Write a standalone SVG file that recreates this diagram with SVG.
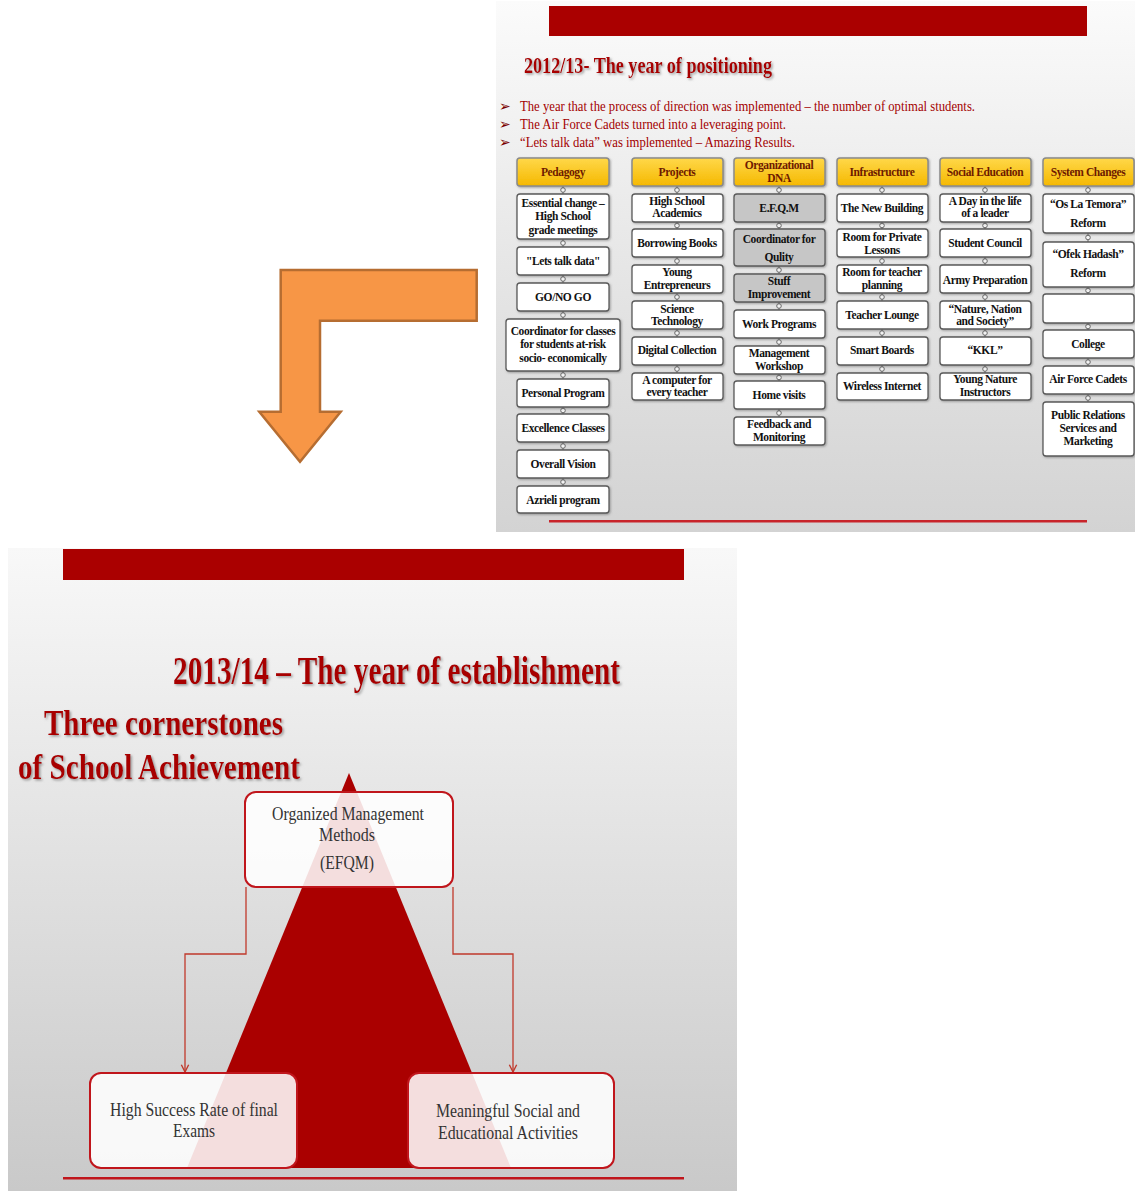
<svg xmlns="http://www.w3.org/2000/svg" width="1135" height="1191" viewBox="0 0 1135 1191">
<defs>
<linearGradient id="bgTop" x1="0" y1="0" x2="0" y2="1">
<stop offset="0" stop-color="#fbfbfb"/><stop offset="0.5" stop-color="#e6e6e6"/><stop offset="1" stop-color="#d3d3d3"/>
</linearGradient>
<linearGradient id="bgBot" x1="0" y1="0" x2="0" y2="1">
<stop offset="0" stop-color="#f8f8f8"/><stop offset="1" stop-color="#c9c9c9"/>
</linearGradient>
<linearGradient id="hdr" x1="0" y1="0" x2="0" y2="1">
<stop offset="0" stop-color="#ffd84a"/><stop offset="1" stop-color="#f5b800"/>
</linearGradient>
<filter id="shadow" x="-10%" y="-20%" width="120%" height="150%">
<feDropShadow dx="1.5" dy="1.5" stdDeviation="1" flood-color="#777" flood-opacity="0.7"/>
</filter>
<filter id="bshadow" x="-10%" y="-20%" width="120%" height="150%">
<feDropShadow dx="1" dy="1" stdDeviation="0.8" flood-color="#555" flood-opacity="0.5"/>
</filter>
<marker id="arr" viewBox="0 0 10 10" refX="9" refY="5" markerWidth="7" markerHeight="7" orient="auto">
<path d="M1,1 L9,5 L1,9" fill="none" stroke="#c0392b" stroke-width="1.5"/>
</marker>
<style>
.box{fill:#ffffff;stroke:#5a5a5a;stroke-width:1.3;filter:url(#bshadow)}
.gbox{fill:#c6c6c6;stroke:#5a5a5a;stroke-width:1.3;filter:url(#bshadow)}
.hbox{fill:url(#hdr);stroke:#8a8a8a;stroke-width:1.5;filter:url(#bshadow)}
.t{font-family:"Liberation Serif",serif;font-weight:bold;font-size:11.5px;fill:#111;text-anchor:middle;letter-spacing:-0.4px}
.ht{font-family:"Liberation Serif",serif;font-weight:bold;font-size:11.5px;fill:#6e1a00;text-anchor:middle;letter-spacing:-0.4px}
.bul{font-family:"Liberation Serif",serif;font-size:14px;fill:#a30000}
.mk{font-family:"DejaVu Sans",sans-serif;font-size:14px;fill:#7a0000}
.title{font-family:"Liberation Serif",serif;font-weight:bold;fill:#a80000;filter:url(#shadow)}
.cbox{fill:#ffffff;fill-opacity:0.87;stroke:#c0161c;stroke-width:2}
.ct{font-family:"Liberation Serif",serif;font-size:18px;fill:#333;text-anchor:middle}
.conn line{stroke:#6a6a6a;stroke-width:1}
.conn circle{fill:#f4f4f4;stroke:#6a6a6a;stroke-width:1}
.rc{fill:none;stroke:#c0392b;stroke-width:1.3}
</style>
</defs>

<rect width="1135" height="1191" fill="#ffffff"/>

<!-- Top slide -->
<g id="slide-top">
<rect x="496" y="1" width="639" height="531" fill="url(#bgTop)"/>
<rect x="549" y="6" width="538" height="30" fill="#aa0000"/>
<text class="title" x="524" y="73" font-size="23" textLength="248" lengthAdjust="spacingAndGlyphs">2012/13- The year of positioning</text>
<text class="mk" x="499" y="111">➢</text>
<text class="mk" x="499" y="129">➢</text>
<text class="mk" x="499" y="147">➢</text>
<text class="bul" x="520" y="111" textLength="455" lengthAdjust="spacingAndGlyphs">The year that the process of direction was implemented – the number of optimal students.</text>
<text class="bul" x="520" y="129" textLength="266" lengthAdjust="spacingAndGlyphs">The Air Force Cadets turned into a leveraging point.</text>
<text class="bul" x="520" y="147" textLength="275" lengthAdjust="spacingAndGlyphs">“Lets talk data” was implemented – Amazing Results.</text>
<rect x="549" y="520" width="538" height="2.5" fill="#c8242a"/>
</g>

<!-- Connectors (top chart) -->
<g id="connectors" class="conn">
<g id="c-ped">
<line x1="563" y1="186" x2="563" y2="194"/><circle cx="563" cy="190" r="2.3"/>
<line x1="563" y1="239" x2="563" y2="247"/><circle cx="563" cy="243" r="2.3"/>
<line x1="563" y1="275" x2="563" y2="283"/><circle cx="563" cy="279" r="2.3"/>
<line x1="563" y1="311" x2="563" y2="319"/><circle cx="563" cy="315" r="2.3"/>
<line x1="563" y1="371" x2="563" y2="379"/><circle cx="563" cy="375" r="2.3"/>
<line x1="563" y1="407" x2="563" y2="414"/><circle cx="563" cy="410.5" r="2.3"/>
<line x1="563" y1="442" x2="563" y2="450"/><circle cx="563" cy="446" r="2.3"/>
<line x1="563" y1="478" x2="563" y2="486"/><circle cx="563" cy="482" r="2.3"/>
</g>
<g id="c-proj">
<line x1="677" y1="186" x2="677" y2="194"/><circle cx="677" cy="190" r="2.3"/>
<line x1="677" y1="222" x2="677" y2="229"/><circle cx="677" cy="225.5" r="2.3"/>
<line x1="677" y1="257" x2="677" y2="265"/><circle cx="677" cy="261" r="2.3"/>
<line x1="677" y1="293" x2="677" y2="301"/><circle cx="677" cy="297" r="2.3"/>
<line x1="677" y1="329" x2="677" y2="337"/><circle cx="677" cy="333" r="2.3"/>
<line x1="677" y1="365" x2="677" y2="373"/><circle cx="677" cy="369" r="2.3"/>
</g>
<g id="c-org">
<line x1="779" y1="186" x2="779" y2="194"/><circle cx="779" cy="190" r="2.3"/>
<line x1="779" y1="222" x2="779" y2="229"/><circle cx="779" cy="225.5" r="2.3"/>
<line x1="779" y1="266" x2="779" y2="274"/><circle cx="779" cy="270" r="2.3"/>
<line x1="779" y1="302" x2="779" y2="310"/><circle cx="779" cy="306" r="2.3"/>
<line x1="779" y1="338" x2="779" y2="346"/><circle cx="779" cy="342" r="2.3"/>
<line x1="779" y1="374" x2="779" y2="381"/><circle cx="779" cy="377.5" r="2.3"/>
<line x1="779" y1="409" x2="779" y2="417"/><circle cx="779" cy="413" r="2.3"/>
</g>
<g id="c-inf">
<line x1="882" y1="186" x2="882" y2="194"/><circle cx="882" cy="190" r="2.3"/>
<line x1="882" y1="222" x2="882" y2="229"/><circle cx="882" cy="225.5" r="2.3"/>
<line x1="882" y1="257" x2="882" y2="265"/><circle cx="882" cy="261" r="2.3"/>
<line x1="882" y1="293" x2="882" y2="301"/><circle cx="882" cy="297" r="2.3"/>
<line x1="882" y1="329" x2="882" y2="337"/><circle cx="882" cy="333" r="2.3"/>
<line x1="882" y1="365" x2="882" y2="373"/><circle cx="882" cy="369" r="2.3"/>
</g>
<g id="c-soc">
<line x1="985" y1="186" x2="985" y2="194"/><circle cx="985" cy="190" r="2.3"/>
<line x1="985" y1="222" x2="985" y2="229"/><circle cx="985" cy="225.5" r="2.3"/>
<line x1="985" y1="257" x2="985" y2="265"/><circle cx="985" cy="261" r="2.3"/>
<line x1="985" y1="293" x2="985" y2="301"/><circle cx="985" cy="297" r="2.3"/>
<line x1="985" y1="329" x2="985" y2="337"/><circle cx="985" cy="333" r="2.3"/>
<line x1="985" y1="365" x2="985" y2="373"/><circle cx="985" cy="369" r="2.3"/>
</g>
<g id="c-sys">
<line x1="1088" y1="186" x2="1088" y2="194"/><circle cx="1088" cy="190" r="2.3"/>
<line x1="1088" y1="233" x2="1088" y2="242"/><circle cx="1088" cy="237.5" r="2.3"/>
<line x1="1088" y1="287" x2="1088" y2="294"/><circle cx="1088" cy="290.5" r="2.3"/>
<line x1="1088" y1="323" x2="1088" y2="330"/><circle cx="1088" cy="326.5" r="2.3"/>
<line x1="1088" y1="358" x2="1088" y2="366"/><circle cx="1088" cy="362" r="2.3"/>
<line x1="1088" y1="394" x2="1088" y2="402"/><circle cx="1088" cy="398" r="2.3"/>
</g>
</g>

<!-- Pedagogy column -->
<g id="h-pedagogy"><rect class="hbox" x="517" y="158" width="92" height="28" rx="3"/><text class="ht" x="563" y="176">Pedagogy</text></g>
<g id="n-essential"><rect class="box" x="517" y="194" width="92" height="45" rx="3"/><text class="t" x="563" y="207">Essential change –</text><text class="t" x="563" y="220">High School</text><text class="t" x="563" y="234">grade meetings</text></g>
<g id="n-letstalk"><rect class="box" x="517" y="247" width="92" height="28" rx="3"/><text class="t" x="563" y="265">"Lets talk data"</text></g>
<g id="n-gonogo"><rect class="box" x="517" y="283" width="92" height="28" rx="3"/><text class="t" x="563" y="301">GO/NO GO</text></g>
<g id="n-coordinator"><rect class="box" x="506" y="319" width="114" height="52" rx="3"/><text class="t" x="563" y="335">Coordinator for classes</text><text class="t" x="563" y="348">for students at-risk</text><text class="t" x="563" y="362">socio- economically</text></g>
<g id="n-personal"><rect class="box" x="517" y="379" width="92" height="28" rx="3"/><text class="t" x="563" y="397">Personal Program</text></g>
<g id="n-excellence"><rect class="box" x="517" y="414" width="92" height="28" rx="3"/><text class="t" x="563" y="432">Excellence Classes</text></g>
<g id="n-overall"><rect class="box" x="517" y="450" width="92" height="28" rx="3"/><text class="t" x="563" y="468">Overall Vision</text></g>
<g id="n-azrieli"><rect class="box" x="517" y="486" width="92" height="27" rx="3"/><text class="t" x="563" y="504">Azrieli program</text></g>

<!-- Projects column -->
<g id="h-projects"><rect class="hbox" x="632" y="158" width="91" height="28" rx="3"/><text class="ht" x="677" y="176">Projects</text></g>
<g id="n-hsacademics"><rect class="box" x="632" y="194" width="91" height="28" rx="3"/><text class="t" x="677" y="205">High School</text><text class="t" x="677" y="217">Academics</text></g>
<g id="n-borrowing"><rect class="box" x="632" y="229" width="91" height="28" rx="3"/><text class="t" x="677" y="247">Borrowing Books</text></g>
<g id="n-young"><rect class="box" x="632" y="265" width="91" height="28" rx="3"/><text class="t" x="677" y="276">Young</text><text class="t" x="677" y="289">Entrepreneurs</text></g>
<g id="n-science"><rect class="box" x="632" y="301" width="91" height="28" rx="3"/><text class="t" x="677" y="313">Science</text><text class="t" x="677" y="325">Technology</text></g>
<g id="n-digital"><rect class="box" x="632" y="337" width="91" height="28" rx="3"/><text class="t" x="677" y="354">Digital Collection</text></g>
<g id="n-computer"><rect class="box" x="632" y="373" width="91" height="27" rx="3"/><text class="t" x="677" y="384">A computer for</text><text class="t" x="677" y="396">every teacher</text></g>

<!-- Organizational DNA column -->
<g id="h-orgdna"><rect class="hbox" x="734" y="158" width="91" height="28" rx="3"/><text class="ht" x="779" y="169">Organizational</text><text class="ht" x="779" y="182">DNA</text></g>
<g id="n-efqm"><rect class="gbox" x="734" y="194" width="91" height="28" rx="3"/><text class="t" x="779" y="212">E.F.Q.M</text></g>
<g id="n-coordquality"><rect class="gbox" x="734" y="229" width="91" height="37" rx="3"/><text class="t" x="779" y="243">Coordinator for</text><text class="t" x="779" y="261">Qulity</text></g>
<g id="n-stuff"><rect class="gbox" x="734" y="274" width="91" height="28" rx="3"/><text class="t" x="779" y="285">Stuff</text><text class="t" x="779" y="298">Improvement</text></g>
<g id="n-work"><rect class="box" x="734" y="310" width="91" height="28" rx="3"/><text class="t" x="779" y="328">Work Programs</text></g>
<g id="n-mgmt"><rect class="box" x="734" y="346" width="91" height="28" rx="3"/><text class="t" x="779" y="357">Management</text><text class="t" x="779" y="370">Workshop</text></g>
<g id="n-home"><rect class="box" x="734" y="381" width="91" height="28" rx="3"/><text class="t" x="779" y="399">Home visits</text></g>
<g id="n-feedback"><rect class="box" x="734" y="417" width="91" height="28" rx="3"/><text class="t" x="779" y="428">Feedback and</text><text class="t" x="779" y="441">Monitoring</text></g>

<!-- Infrastructure column -->
<g id="h-infra"><rect class="hbox" x="837" y="158" width="91" height="28" rx="3"/><text class="ht" x="882" y="176">Infrastructure</text></g>
<g id="n-newbuilding"><rect class="box" x="837" y="194" width="91" height="28" rx="3"/><text class="t" x="882" y="212">The New Building</text></g>
<g id="n-private"><rect class="box" x="837" y="229" width="91" height="28" rx="3"/><text class="t" x="882" y="241">Room for Private</text><text class="t" x="882" y="254">Lessons</text></g>
<g id="n-teacherplan"><rect class="box" x="837" y="265" width="91" height="28" rx="3"/><text class="t" x="882" y="276">Room for teacher</text><text class="t" x="882" y="289">planning</text></g>
<g id="n-lounge"><rect class="box" x="837" y="301" width="91" height="28" rx="3"/><text class="t" x="882" y="319">Teacher Lounge</text></g>
<g id="n-smart"><rect class="box" x="837" y="337" width="91" height="28" rx="3"/><text class="t" x="882" y="354">Smart Boards</text></g>
<g id="n-wireless"><rect class="box" x="837" y="373" width="91" height="27" rx="3"/><text class="t" x="882" y="390">Wireless Internet</text></g>

<!-- Social Education column -->
<g id="h-social"><rect class="hbox" x="940" y="158" width="91" height="28" rx="3"/><text class="ht" x="985" y="176">Social Education</text></g>
<g id="n-dayleader"><rect class="box" x="940" y="194" width="91" height="28" rx="3"/><text class="t" x="985" y="205">A Day in the life</text><text class="t" x="985" y="217">of a leader</text></g>
<g id="n-council"><rect class="box" x="940" y="229" width="91" height="28" rx="3"/><text class="t" x="985" y="247">Student Council</text></g>
<g id="n-army"><rect class="box" x="940" y="265" width="91" height="28" rx="3"/><text class="t" x="985" y="284">Army Preparation</text></g>
<g id="n-nature"><rect class="box" x="940" y="301" width="91" height="28" rx="3"/><text class="t" x="985" y="313">“Nature, Nation</text><text class="t" x="985" y="325">and Society”</text></g>
<g id="n-kkl"><rect class="box" x="940" y="337" width="91" height="28" rx="3"/><text class="t" x="985" y="354">“KKL”</text></g>
<g id="n-youngnature"><rect class="box" x="940" y="373" width="91" height="27" rx="3"/><text class="t" x="985" y="383">Young Nature</text><text class="t" x="985" y="396">Instructors</text></g>

<!-- System Changes column -->
<g id="h-system"><rect class="hbox" x="1043" y="158" width="91" height="28" rx="3"/><text class="ht" x="1088" y="176">System Changes</text></g>
<g id="n-oslatemora"><rect class="box" x="1043" y="194" width="91" height="39" rx="3"/><text class="t" x="1088" y="208">“Os La Temora”</text><text class="t" x="1088" y="227">Reform</text></g>
<g id="n-ofek"><rect class="box" x="1043" y="242" width="91" height="45" rx="3"/><text class="t" x="1088" y="258">“Ofek Hadash”</text><text class="t" x="1088" y="277">Reform</text></g>
<g id="n-empty"><rect class="box" x="1043" y="294" width="91" height="29" rx="3"/></g>
<g id="n-college"><rect class="box" x="1043" y="330" width="91" height="28" rx="3"/><text class="t" x="1088" y="348">College</text></g>
<g id="n-airforce"><rect class="box" x="1043" y="366" width="91" height="28" rx="3"/><text class="t" x="1088" y="383">Air Force Cadets</text></g>
<g id="n-pr"><rect class="box" x="1043" y="402" width="91" height="54" rx="3"/><text class="t" x="1088" y="419">Public Relations</text><text class="t" x="1088" y="432">Services and</text><text class="t" x="1088" y="445">Marketing</text></g>

<!-- Orange L arrow -->
<g id="orange-arrow">
<polygon points="280.7,270 476.7,270 476.7,320.7 320,320.7 320,411.7 340.7,411.7 300,461.7 259.3,411.7 280.7,411.7" fill="#f79646" stroke="#b66d31" stroke-width="2.5" stroke-linejoin="miter"/>
</g>

<!-- Bottom slide -->
<g id="slide-bottom">
<rect x="8" y="548" width="729" height="643" fill="url(#bgBot)"/>
<rect x="63" y="549" width="621" height="31" fill="#aa0000"/>
<text class="title" x="173" y="684" font-size="40" textLength="447" lengthAdjust="spacingAndGlyphs">2013/14 – The year of establishment</text>
<text class="title" x="44" y="735" font-size="35" textLength="239" lengthAdjust="spacingAndGlyphs">Three cornerstones</text>
<text class="title" x="18" y="779" font-size="35" textLength="282" lengthAdjust="spacingAndGlyphs">of School Achievement</text>
<polygon id="triangle" points="349,773 511,1168 187,1168" fill="#aa0000"/>
<rect x="63" y="1177" width="621" height="2.5" fill="#c0161c"/>
</g>

<g id="bottom-connectors">
<path class="rc" d="M246,887 V954 H185 V1072" marker-end="url(#arr)"/>
<path class="rc" d="M453,887 V954 H513 V1072" marker-end="url(#arr)"/>
</g>

<g id="n-efqm-main"><rect class="cbox" x="245" y="792" width="208" height="95" rx="11"/>
<text class="ct" x="348" y="820" textLength="152" lengthAdjust="spacingAndGlyphs">Organized Management</text>
<text class="ct" x="347" y="841" textLength="56" lengthAdjust="spacingAndGlyphs">Methods</text>
<text class="ct" x="347" y="869" textLength="54" lengthAdjust="spacingAndGlyphs">(EFQM)</text></g>
<g id="n-success"><rect class="cbox" x="90" y="1073" width="207" height="95" rx="11"/>
<text class="ct" x="194" y="1116" textLength="168" lengthAdjust="spacingAndGlyphs">High Success Rate of final</text>
<text class="ct" x="194" y="1137" textLength="42" lengthAdjust="spacingAndGlyphs">Exams</text></g>
<g id="n-social-act"><rect class="cbox" x="408" y="1073" width="206" height="95" rx="11"/>
<text class="ct" x="508" y="1117" textLength="144" lengthAdjust="spacingAndGlyphs">Meaningful Social and</text>
<text class="ct" x="508" y="1139" textLength="140" lengthAdjust="spacingAndGlyphs">Educational Activities</text></g>
</svg>
